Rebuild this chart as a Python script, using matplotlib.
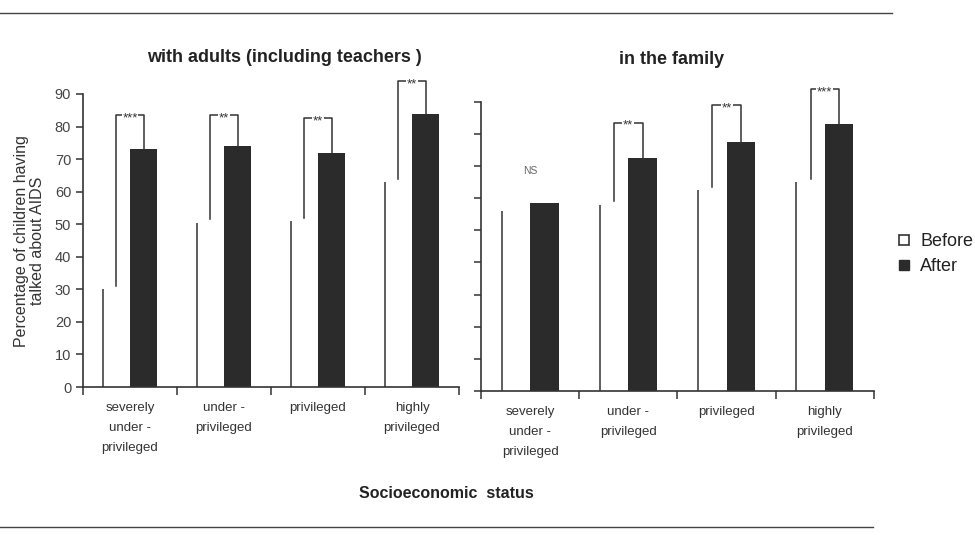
import numpy as np
import matplotlib
matplotlib.use("Agg")
import matplotlib.pyplot as plt
from matplotlib.lines import Line2D

plt.rcParams['font.family'] = ['Liberation Sans', 'DejaVu Sans']

# data
categories = ["severely\nunder -\nprivileged", "under -\nprivileged", "privileged", "highly\nprivileged"]
adults_before = [30, 50.5, 51, 63]
adults_after = [73, 74, 72, 84]
adults_sig = ["***", "**", "**", "**"]
adults_bracket = [83.5, 83.5, 82.5, 94]
family_before = [56, 58, 62.5, 65]
family_after = [58.5, 72.5, 77.5, 83]
family_sig = ["NS", "**", "**", "***"]
family_bracket = [None, 83.5, 89, 94]

DARK = '#2b2b2b'
INK = '#333333'
W = 0.29


def draw_panel(ax, before, after, sig, bracket, show_labels):
    x = np.arange(len(before)) + 0.5
    ax.bar(x - W / 2, before, W, color='white', zorder=2)
    ax.vlines(x - W, 0, before, color=INK, lw=1.1, zorder=3)
    ax.bar(x + W / 2, after, W, color=DARK, zorder=2)

    for xi, b, a, s, top in zip(x, before, after, sig, bracket):
        if top is None:
            ax.text(xi, max(a, b) + 10, s, ha='center', va='center',
                    fontsize=7.5, color='#666666')
            continue
        xl, xr = xi - W / 2, xi + W / 2
        ax.plot([xl, xl, xr, xr], [b + 1, top, top, a], color=INK, lw=1.1,
                clip_on=False, zorder=3)
        ax.text(xi, top - 1.0, s, ha='center', va='center', fontsize=9.5, color=INK,
                bbox=dict(facecolor='white', edgecolor='none', pad=0.6), zorder=4)

    ax.set_xlim(0, len(before))
    ax.set_ylim(0, 90)
    ax.set_xticks(np.arange(len(before) + 1))
    ax.set_xticklabels([])
    ax.set_xticks(x, categories, minor=True)
    ax.tick_params(axis='x', which='minor', length=0, pad=11, labelsize=9.5,
                   labelcolor=INK)
    for lab in ax.get_xticklabels(minor=True):
        lab.set_linespacing(1.85)
        lab.set_verticalalignment('top')
    ax.tick_params(axis='x', which='major', length=6, width=1.1, color=INK)
    ax.set_yticks(np.arange(0, 91, 10))
    ax.tick_params(axis='y', length=5, width=1.1, color=INK, labelsize=10.5,
                   labelcolor='#444444', labelleft=show_labels)
    for side in ['top', 'right']:
        ax.spines[side].set_visible(False)
    for side in ['left', 'bottom']:
        ax.spines[side].set_color(INK)
        ax.spines[side].set_linewidth(1.2)


fig = plt.figure(figsize=(9.75, 5.35), dpi=100)
ax1 = fig.add_axes([0.0851, 0.2766, 0.3857, 0.5477])
ax2 = fig.add_axes([0.4933, 0.2692, 0.4031, 0.5407])

draw_panel(ax1, adults_before, adults_after, adults_sig, adults_bracket, True)
draw_panel(ax2, family_before, family_after, family_sig, family_bracket, False)

fig.text(0.292, 0.893, "with adults (including teachers )", ha='center', va='center',
         fontsize=13, fontweight='bold', color='#222222')
fig.text(0.689, 0.888, "in the family", ha='center', va='center',
         fontsize=13, fontweight='bold', color='#222222')
fig.text(0.458, 0.077, "Socioeconomic  status", ha='center', va='center',
         fontsize=11.5, fontweight='bold', color='#222222')
fig.text(0.030, 0.55, "Percentage of children having\ntalked about AIDS", ha='center',
         va='center', rotation=90, fontsize=11.5, color='#333333', linespacing=1.1)

handles = [Line2D([0], [0], marker='s', ls='none', markersize=7, markerfacecolor='white',
                  markeredgecolor=INK, markeredgewidth=1.2, label='Before'),
           Line2D([0], [0], marker='s', ls='none', markersize=7, markerfacecolor=DARK,
                  markeredgecolor=DARK, label='After')]
fig.legend(handles=handles, loc='upper left', bbox_to_anchor=(0.905, 0.595),
           frameon=False, fontsize=13, handlelength=0.6, handletextpad=0.6,
           labelspacing=0.45, labelcolor='#222222')

# horizontal rules framing the figure
fig.add_artist(Line2D([0, 0.915], [0.976, 0.976], color='#444444', lw=1.0))
fig.add_artist(Line2D([0, 0.895], [0.015, 0.015], color='#444444', lw=1.0))

fig.savefig("out.png", dpi=100)
